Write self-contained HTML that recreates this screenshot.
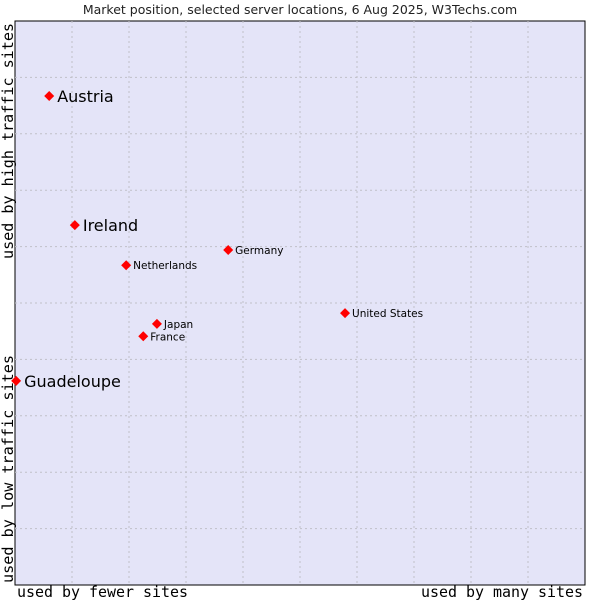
<!DOCTYPE html>
<html><head><meta charset="utf-8"><style>
body{margin:0;background:#fff;width:600px;height:600px;overflow:hidden}
svg{display:block;font-family:"DejaVu Sans","Liberation Sans",sans-serif}
</style></head><body>
<svg id="chart" width="600" height="600">
<text x="300" y="14" text-anchor="middle" font-size="12.5" fill="#222">Market position, selected server locations, 6 Aug 2025, W3Techs.com</text>
<rect x="15" y="21" width="570" height="564" fill="#e4e4f8" stroke="#000" stroke-width="1"/>
<g id="grid"></g>
<g id="points"></g>
<text x="17" y="597" textLength="171" lengthAdjust="spacingAndGlyphs" font-family="DejaVu Sans Mono,Liberation Mono,monospace" font-size="15" fill="#000">used by fewer sites</text>
<text x="421" y="597" textLength="162" lengthAdjust="spacingAndGlyphs" font-family="DejaVu Sans Mono,Liberation Mono,monospace" font-size="15" fill="#000">used by many sites</text>
<text transform="translate(13,583) rotate(-90)" textLength="228" lengthAdjust="spacingAndGlyphs" font-family="DejaVu Sans Mono,Liberation Mono,monospace" font-size="15" fill="#000">used by low traffic sites</text>
<text transform="translate(13,259) rotate(-90)" textLength="236" lengthAdjust="spacingAndGlyphs" font-family="DejaVu Sans Mono,Liberation Mono,monospace" font-size="15" fill="#000">used by high traffic sites</text>
</svg>
<script>
const names=["Austria","Ireland","Netherlands","Germany","United States","Japan","France","Guadeloupe"];
const xValues=[6.0,10.5,19.5,37.4,57.9,24.9,22.5,0.2];
const yValues=[86.7,63.8,56.7,59.4,48.2,46.3,44.1,36.2];
const bigLabels=["Austria","Ireland","Guadeloupe"];
const X0=15,X1=585,Y0=585,Y1=21;
function sx(v){return X0+(X1-X0)*v/100;}
function sy(v){return Y0-(Y0-Y1)*v/100;}
const NS="http://www.w3.org/2000/svg";
const grid=document.getElementById('grid');
for(let i=1;i<10;i++){
  const v=document.createElementNS(NS,'line');
  v.setAttribute('x1',sx(i*10));v.setAttribute('x2',sx(i*10));v.setAttribute('y1',Y1);v.setAttribute('y2',Y0);
  v.setAttribute('stroke','#c0c0c8');v.setAttribute('stroke-dasharray','2,3');
  
  
  grid.appendChild(v);
  const h=document.createElementNS(NS,'line');
  h.setAttribute('y1',sy(i*10));h.setAttribute('y2',sy(i*10));h.setAttribute('x1',X0);h.setAttribute('x2',X1);
  h.setAttribute('stroke','#c0c0c8');h.setAttribute('stroke-dasharray','2,3');
  
  
  grid.appendChild(h);
}
const pts=document.getElementById('points');
names.forEach((n,i)=>{
  const x=sx(xValues[i]),y=sy(yValues[i]);
  const big=bigLabels.includes(n);
  const d=document.createElementNS(NS,'path');
  d.setAttribute('d',`M${x-5},${y} L${x},${y-5} L${x+5},${y} L${x},${y+5} Z`);
  d.setAttribute('fill','#f00');
  
  
  pts.appendChild(d);
  const t=document.createElementNS(NS,'text');
  t.setAttribute('x',x+(big?8:7));t.setAttribute('y',y+(big?6:4));
  t.setAttribute('font-size',big?16:10.5);t.setAttribute('fill','#000');
  t.textContent=n;
  
  
  pts.appendChild(t);
});
</script>
</body></html>
